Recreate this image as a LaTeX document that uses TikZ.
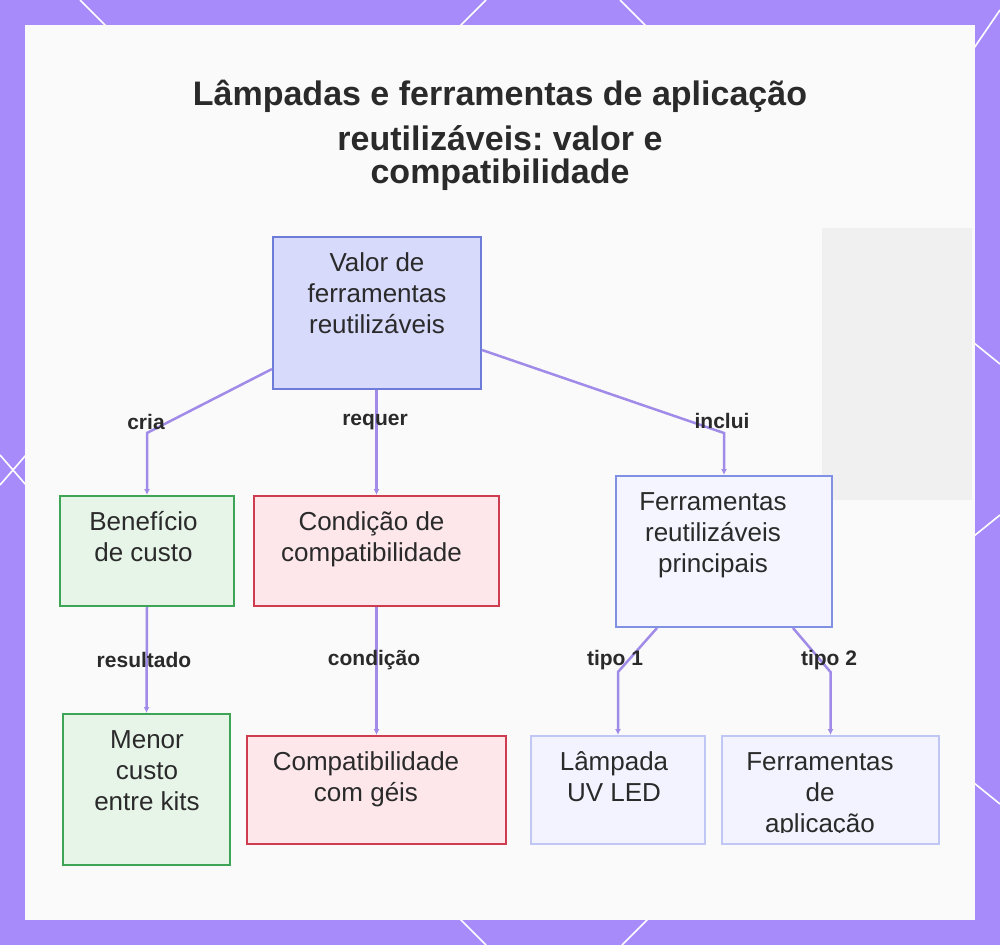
\documentclass[tikz,border=0pt]{standalone}
\usepackage{fontspec}
\setmainfont{Liberation Sans}
\frenchspacing
\usetikzlibrary{arrows.meta}
\definecolor{bgpurple}{HTML}{A78BFA}
\definecolor{panel}{HTML}{FAFAFA}
\definecolor{blob}{HTML}{F0F0F0}
\definecolor{textc}{HTML}{2A2A2A}
\definecolor{linec}{HTML}{A08BE8}
\definecolor{rootfill}{HTML}{D7DAFB}
\definecolor{rootdraw}{HTML}{6E7CD9}
\definecolor{gfill}{HTML}{E7F5E9}
\definecolor{gdraw}{HTML}{3FA556}
\definecolor{rfill}{HTML}{FDE7EB}
\definecolor{rdraw}{HTML}{CF3C4F}
\definecolor{bfill}{HTML}{F4F5FE}
\definecolor{bdraw}{HTML}{8090E3}
\definecolor{lfill}{HTML}{F2F3FE}
\definecolor{ldraw}{HTML}{C0C7F5}
\begin{document}
\begin{tikzpicture}[x=1pt,y=-1pt,
  boxbase/.style={rectangle, line width=2pt, inner sep=0pt},
  rootbox/.style={boxbase, fill=rootfill, draw=rootdraw},
  gbox/.style={boxbase, fill=gfill, draw=gdraw},
  rbox/.style={boxbase, fill=rfill, draw=rdraw},
  bbox/.style={boxbase, fill=bfill, draw=bdraw},
  lbox/.style={boxbase, fill=lfill, draw=ldraw},
  btext/.style={font=\fontsize{26}{31}\selectfont, text=textc, align=center, anchor=base, inner sep=0pt},
  elabel/.style={font=\bfseries\fontsize{21}{24}\selectfont, text=textc, inner sep=0pt},
  titletext/.style={font=\bfseries\fontsize{34}{33}\selectfont, text=textc, align=center, anchor=base, inner sep=0pt},
  conn/.style={draw=linec, line width=2.5pt, -{Latex[length=6pt,width=6pt]}},
  wline/.style={draw=white, line width=1.6pt}
]
\useasboundingbox (0,0) rectangle (1000,945);
% background frame
\fill[bgpurple] (0,0) rectangle (1000,945);
\draw[wline] (80,0) -- (106,26);
\draw[wline] (486,0) -- (460,26);
\draw[wline] (620,0) -- (646,26);
\draw[wline] (1000,10) -- (974,48);
\draw[wline] (0,455) -- (26,485);
\draw[wline] (0,485) -- (26,455);
\draw[wline] (974,343) -- (1000,364);
\draw[wline] (974,536) -- (1000,515);
\draw[wline] (974,783) -- (1000,804);
\draw[wline] (460,919) -- (486,945);
\draw[wline] (648,919) -- (622,945);
% panel
\fill[panel] (25,25) rectangle (975,920);
\fill[blob] (822,228) rectangle (972,500);

% title (anchor base = last line baseline)
\node[titletext] (title) at (500,183) {Lâmpadas e ferramentas de aplicação\\[12pt]reutilizáveis: valor e\\compatibilidade};

% boxes
\node[rootbox, minimum width=208pt, minimum height=152pt] (root) at (377,313) {};
\node[gbox, minimum width=174pt, minimum height=110pt] (ben) at (147,551) {};
\node[rbox, minimum width=245pt, minimum height=110pt] (cond) at (376.5,551) {};
\node[bbox, minimum width=216pt, minimum height=151pt] (fp) at (724,551.5) {};
\node[gbox, minimum width=167pt, minimum height=151pt] (menor) at (146.5,789.5) {};
\node[rbox, minimum width=259pt, minimum height=108pt] (compat) at (376.5,790) {};
\node[lbox, minimum width=174pt, minimum height=108pt] (lamp) at (618,790) {};
\node[lbox, minimum width=217pt, minimum height=108pt] (fa) at (830.5,790) {};

% box texts (anchor base = last line baseline)
\node[btext] (troot) at (377,333) {Valor de\\ferramentas\\reutilizáveis};
\node[btext] (tben) at (143.5,561) {Benefício\\de custo};
\node[btext] (tcond) at (371.5,561) {Condição de\\compatibilidade};
\node[btext] (tfp) at (713,572) {Ferramentas\\reutilizáveis\\principais};
\node[btext] (tmenor) at (147,810) {Menor\\custo\\entre kits};
\node[btext] (tcompat) at (366,801) {Compatibilidade\\com géis};
\node[btext] (tlamp) at (614,801) {Lâmpada\\UV LED};
\begin{scope}
  \clip (fa.north west) rectangle ([yshift=13pt]fa.south east);
  \node[btext] (tfa) at (820,832) {Ferramentas\\de\\aplicação};
\end{scope}

% connectors
\draw[conn] ([yshift=21pt]root.south west) -- (ben.north |- 0,433) -- (ben.north);
\draw[conn] (root.south -| cond.north) -- (cond.north);
\draw[conn] ([yshift=40pt]root.south east) -- (fp.north |- 0,433) -- (fp.north);
\draw[conn] (ben.south) -- (menor.north);
\draw[conn] (cond.south) -- (compat.north);
\draw[conn] ([xshift=-67pt]fp.south) -- (lamp.north |- 0,672) -- (lamp.north);
\draw[conn] ([xshift=69pt]fp.south) -- (fa.north |- 0,672) -- (fa.north);

% edge labels
\node[elabel] (lcria) at (146,422) {cria};
\node[elabel] (lrequer) at (375,422) {requer};
\node[elabel] (linclui) at (722,421) {inclui};
\node[elabel] (lres) at (144,660) {resultado};
\node[elabel] (lcond) at (374,660) {condição};
\node[elabel] (ltipo1) at (615,660) {tipo 1};
\node[elabel] (ltipo2) at (829,660) {tipo 2};
\end{tikzpicture}
\end{document}
